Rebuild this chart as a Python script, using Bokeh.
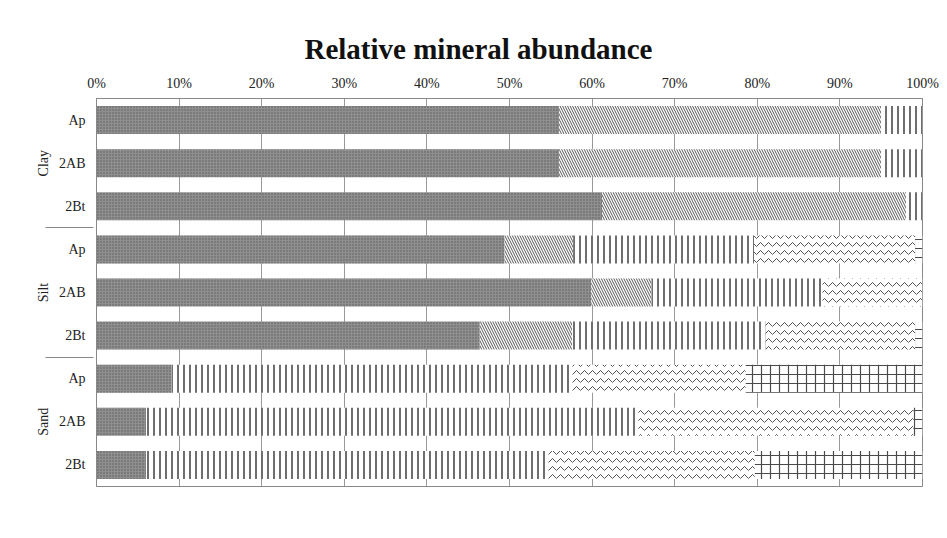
from bokeh.plotting import figure
from bokeh.models import FactorRange, Legend, LegendItem, NumeralTickFormatter, FixedTicker
from bokeh.embed import file_html
from bokeh.resources import INLINE

# ---- data ----
groups = ["Clay", "Silt", "Sand"]
horizons = ["Ap", "2AB", "2Bt"]
minerals = ["Ilt", "Kln", "Qz", "Fsp", "Cal"]

Ilt = [56.0, 56.0, 61.2, 49.4, 59.9, 46.4, 9.1, 6.0, 6.0]
Kln = [39.0, 39.0, 36.8, 8.3, 7.3, 11.2, 0.0, 0.0, 0.0]
Qz = [5.0, 5.0, 2.0, 21.9, 20.7, 23.4, 48.5, 59.6, 48.7]
Fsp = [0.0, 0.0, 0.0, 19.5, 12.1, 18.1, 21.0, 33.3, 25.0]
Cal = [0.0, 0.0, 0.0, 0.9, 0.0, 0.9, 21.4, 1.1, 20.3]

x_ticks = [0, 10, 20, 30, 40, 50, 60, 70, 80, 90, 100]

factors = [(g, h) for g in groups for h in horizons]
source = dict(y=factors, Ilt=[v / 100 for v in Ilt], Kln=[v / 100 for v in Kln],
              Qz=[v / 100 for v in Qz], Fsp=[v / 100 for v in Fsp], Cal=[v / 100 for v in Cal])

SERIF = "Liberation Serif"

p = figure(frame_width=826, frame_height=388,
           output_backend="svg", toolbar_location=None,
           y_range=FactorRange(*reversed(factors), range_padding=0.0, factor_padding=0.0,
                               group_padding=0.0),
           x_range=(0, 1), x_axis_location="above",
           min_border_left=96, min_border_right=17, min_border_top=98, min_border_bottom=0)

fills = ["#8f8f8f", "white", "white", "white", "white"]
hatches = ["dot", "left_diagonal_line", "vertical_line", "horizontal_wave", "cross"]
hcolors = ["#5a5a5a", "#555555", "#4a4a4a", "#555555", "#4a4a4a"]
hscales = [3, 5, 6, 8, 9]
hweights = [1, 1, 1.6, 1, 1.2]

renderers = p.hbar_stack(minerals, y="y", height=0.65, source=source,
                         fill_color=fills, line_color=None,
                         hatch_pattern=hatches, hatch_color=hcolors,
                         hatch_scale=hscales, hatch_weight=hweights)

# axes
xa = p.xaxis[0]
xa.ticker = FixedTicker(ticks=[t / 100 for t in x_ticks])
xa.formatter = NumeralTickFormatter(format="0%")
xa.major_label_text_font = SERIF
xa.major_label_text_font_size = "14px"
xa.major_label_text_color = "#222222"
xa.major_tick_line_color = None
xa.minor_tick_line_color = None
xa.axis_line_color = "#888888"
xa.major_label_standoff = 2

ya = p.yaxis[0]
ya.major_label_text_font = SERIF
ya.major_label_text_font_size = "14px"
ya.major_label_text_color = "#222222"
ya.group_text_font = SERIF
ya.group_text_font_size = "14px"
ya.group_text_font_style = "normal"
ya.group_text_color = "#222222"
ya.group_label_orientation = "vertical"
ya.major_tick_line_color = None
ya.axis_line_color = "#888888"
ya.separator_line_color = "#888888"
ya.separator_line_width = 1

p.xgrid.grid_line_color = "#999999"
p.ygrid.grid_line_color = None
p.outline_line_color = "#888888"

p.title.text = "Relative mineral abundance"
p.title.text_font = SERIF
p.title.text_font_size = "29px"
p.title.text_font_style = "bold"
p.title.text_color = "#111111"
p.title.align = "left"
p.title.standoff = 16
p.title.offset = 208

legend = Legend(items=[LegendItem(label=m, renderers=[r]) for m, r in zip(minerals, renderers)],
                orientation="horizontal", location=(230, 12),
                label_text_font=SERIF, label_text_font_size="13px", label_text_color="#222222",
                label_height=13, glyph_width=9, glyph_height=9, label_standoff=3, spacing=8,
                border_line_color=None, background_fill_alpha=0, padding=0, margin=19)
p.add_layout(legend, "below")

open("out.html", "w").write(file_html(p, INLINE))
